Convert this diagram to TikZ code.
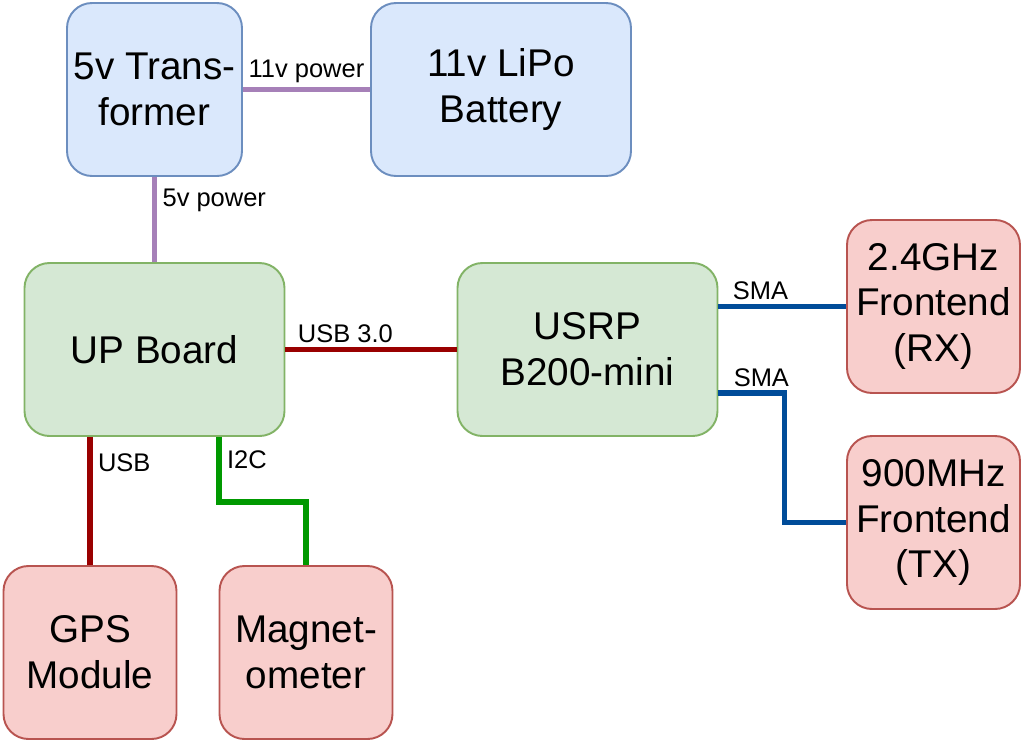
\documentclass[tikz,border=0pt]{standalone}
\usepackage{fontspec}
\setmainfont{Liberation Sans}
\usetikzlibrary{positioning}
\definecolor{supplyfill}{HTML}{DAE8FC}
\definecolor{supplyline}{HTML}{6C8EBF}
\definecolor{boardfill}{HTML}{D5E8D4}
\definecolor{boardline}{HTML}{82B366}
\definecolor{periphfill}{HTML}{F8CECC}
\definecolor{periphline}{HTML}{B85450}
\definecolor{powerline}{HTML}{A680B8}
\definecolor{usbline}{HTML}{990000}
\definecolor{i2cline}{HTML}{009900}
\definecolor{smaline}{HTML}{004C99}

\begin{document}
\begin{tikzpicture}[node distance=2cm,on grid,
   box/.style={draw,rounded corners=0.5cm,line width=1.1pt,align=center,inner sep=0pt,
     minimum height=3.46cm,font=\fontsize{22}{26}\selectfont},
   supply/.style={box,fill=supplyfill,draw=supplyline},
   board/.style={box,fill=boardfill,draw=boardline,minimum width=5.2cm},
   periph/.style={box,fill=periphfill,draw=periphline,minimum width=3.46cm},
   wire/.style={line width=3.2pt},
   lbl/.style={font=\fontsize{14.5}{16}\selectfont,inner sep=2pt}]
   \useasboundingbox (0,0) rectangle (20.48,-14.86);
   \node[board] (up) at (3.09,-6.99) {UP Board};
   \node[supply,minimum width=3.5cm] (trans) [above=5.2cm of up] {5v Trans-\\former};
   \node[supply,minimum width=5.2cm] (bat) [right=6.93cm of trans] {11v LiPo\\Battery};
   \node[board] (usrp) [right=8.66cm of up] {USRP\\B200-mini};
   \node[periph] (rx) [above right=0.86cm and 6.92cm of usrp] {2.4GHz\\Frontend\\(RX)};
   \node[periph] (tx) [below=4.32cm of rx] {900MHz\\Frontend\\(TX)};
   \node[periph] (gps) [below left=6.06cm and 1.29cm of up] {GPS\\Module};
   \node[periph] (mag) [right=4.32cm of gps] {Magnet-\\ometer};

   % power
   \draw[wire,powerline] (trans) -- node[lbl,above,text=black,pos=0.5] {11v power} (bat);
   \draw[wire,powerline] (trans) -- node[lbl,right,text=black,pos=0.28,xshift=1pt] {5v power} (up);
   % data
   \draw[wire,usbline] (up) -- node[lbl,above,text=black,pos=0.35] {USB 3.0} (usrp);
   \draw[wire,usbline] (gps.north |- up.south) -- node[lbl,right,text=black,pos=0.2,xshift=1pt] {USB} (gps.north);
   \draw[wire,i2cline] ([xshift=1.29cm]up.south) -- node[lbl,right,text=black,pos=0.35,xshift=1pt] {I2C}
      ++(0,-1.3) -| (mag.north);
   % rf
   \draw[wire,smaline] (usrp.east |- rx.west) -- node[lbl,above,text=black,pos=0.33] {SMA} (rx.west);
   \draw[wire,smaline] ([yshift=-0.87cm]usrp.east) -- node[lbl,above,text=black,pos=0.65] {SMA}
      ++(1.32,0) |- (tx.west);
\end{tikzpicture}
\end{document}
